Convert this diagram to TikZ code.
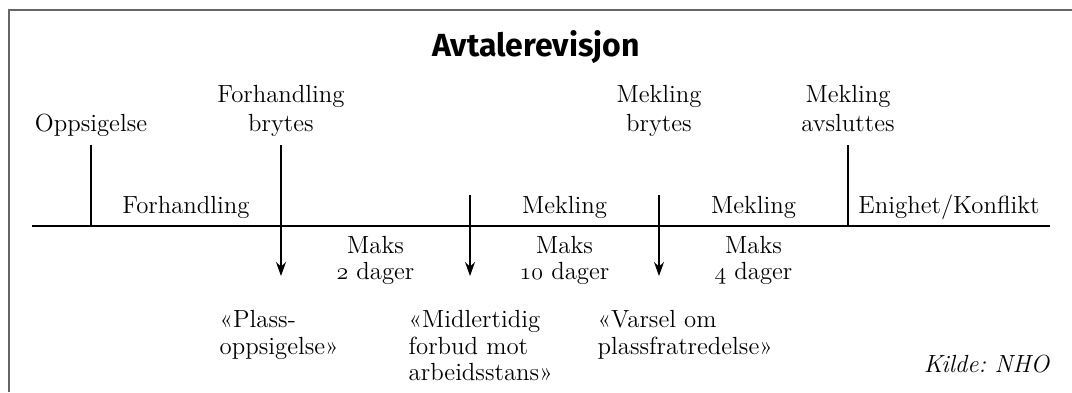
\documentclass[tikz,border=0pt]{standalone}
\usepackage{fontspec}
\newfontfamily\titlefont{Fira Sans}
\usepackage{tikz}
\usetikzlibrary{arrows.meta,positioning,calc}
\newcommand\osn[1]{{\usefont{OML}{cmm}{m}{it}#1}}
\frenchspacing

\begin{document}
\begin{tikzpicture}[x=0.5pt, y=-0.5pt, >={Stealth[length=7pt,width=5pt]},
  font=\fontsize{12.4}{14.5}\selectfont, line width=0.7pt,
  lbl/.style={align=center, inner sep=0pt},
  seg/.style={inner sep=0pt, anchor=base},
  maks/.style={align=center, inner sep=0pt, anchor=north,
               font=\fontsize{12.4}{12.8}\selectfont},
  note/.style={align=left, inner sep=0pt, anchor=north west,
               font=\fontsize{12.4}{13.2}\selectfont}]
  \useasboundingbox (0,0) rectangle (1072,392);
  \draw[line width=1pt, black!60] (9,392) -- (9,10) -- (1072,10);
  \node[inner sep=0pt, anchor=base] (title) at (536,56)
       {\titlefont\fontsize{16}{19}\selectfont\bfseries Avtalerevisjon};
  % tidslinje
  \coordinate (start) at (32,226);
  \coordinate (end) at (1050,226);
  \draw (start) -- (end);
  \coordinate (ta) at (91,226);
  \coordinate (tb) at (281,226);
  \coordinate (tc) at (470,226);
  \coordinate (td) at (659,226);
  \coordinate (te) at (848,226);
  \coordinate (ta0) at (91,145);
  \coordinate (tb0) at (281,145);
  \coordinate (tc0) at (470,195);
  \coordinate (td0) at (659,195);
  \coordinate (te0) at (848,145);
  \coordinate (pb) at (281,276);
  \coordinate (pc) at (470,276);
  \coordinate (pd) at (659,276);
  % hendelser
  \node[lbl, above=2pt of ta0] (oppsig) {Oppsigelse\strut};
  \node[lbl, above=2pt of tb0] (forhbr) {Forhandling\\brytes\strut};
  \node[lbl, above=2pt of td0 |- tb0] (meklbr) {Mekling\\brytes\strut};
  \node[lbl, above=2pt of te0] (meklav) {Mekling\\avsluttes\strut};
  \draw (ta0) -- (ta);
  \draw (te0) -- (te);
  \draw[->] (tb0) -- (pb);
  \draw[->] (tc0) -- (pc);
  \draw[->] (td0) -- (pd);
  % faser
  \node[seg] (forh) at ($(ta)!0.5!(tb)+(0,-13)$) {Forhandling};
  \node[seg] (mekl1) at ($(tc)!0.5!(td)+(0,-13)$) {Mekling};
  \node[seg] (mekl2) at ($(td)!0.5!(te)+(0,-13)$) {Mekling};
  \node[seg] (enig) at ($(te)!0.5!(end)+(0,-13)$) {Enighet/Konflikt};
  \node[maks] (maks1) at ($(tb)!0.5!(tc)+(0,10)$) {Maks\\\osn{2} dager};
  \node[maks] (maks2) at ($(tc)!0.5!(td)+(0,10)$) {Maks\\\osn{10} dager};
  \node[maks] (maks3) at ($(td)!0.5!(te)+(0,10)$) {Maks\\\osn{4} dager};
  % varsler
  \node[note] (plass) at ($(pb)+(-62,34)$) {«Plass-\\oppsigelse»};
  \node[note] (midl) at ($(pc)+(-62,34)$)
       {«Midlertidig\\forbud mot\\arbeidsstans»};
  \node[note] (varsel) at ($(pd)+(-62,34)$) {«Varsel om\\plassfratredelse»};
  \node[inner sep=0pt, anchor=base east, font=\fontsize{12.4}{14}\selectfont\itshape]
       (kilde) at (1050,372) {Kilde: NHO};
\end{tikzpicture}
\end{document}
